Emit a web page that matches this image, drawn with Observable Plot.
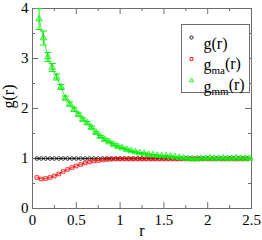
<!DOCTYPE html>
<html>
<head>
<meta charset="utf-8">
<script src="https://cdn.jsdelivr.net/npm/d3@7"></script>
<script src="https://cdn.jsdelivr.net/npm/@observablehq/plot@0.6"></script>
<style>
  html, body { margin: 0; padding: 0; background: #fff; }
  svg { display: block; }
</style>
</head>
<body>
<div id="chart"></div>
<script>
// ---- data ----
const rGrid = [0.05,0.10,0.15,0.20,0.25,0.30,0.35,0.40,0.45,0.50,0.55,0.60,0.65,0.70,0.75,0.80,0.85,0.90,0.95,1.00,
  1.05,1.10,1.15,1.20,1.25,1.30,1.35,1.40,1.45,1.50,1.55,1.60,1.65,1.70,1.75,1.80,1.85,1.90,1.95,2.00,
  2.05,2.10,2.15,2.20,2.25,2.30,2.35,2.40,2.45];
const gValues = rGrid.map(() => 1.0);
const gmaValues = [0.62,0.59,0.60,0.62,0.65,0.69,0.74,0.78,0.82,0.85,0.88,0.91,0.93,0.95,0.96,0.97,0.98,0.985,0.99,0.99,
  0.99,0.99,0.99,0.99,0.99,0.99,0.99,0.99,0.99,0.99,0.99,0.99,0.99,0.99,0.99,0.99,0.99,0.99,0.99,0.99,
  0.99,0.99,0.99,0.99,0.99,0.99,0.99,0.99,0.99];
const rMM = [0.075,0.125,0.175,0.225,0.275,0.325,0.375,0.425,0.475,0.525,0.575,0.625,0.675,0.725,0.775,0.825,0.875,0.925,0.975,
  1.025,1.075,1.125,1.175,1.225,1.275,1.325,1.375,1.425,1.475,1.525,1.575,1.625,1.675,1.725,1.775,1.825,1.875,1.925,1.975,
  2.025,2.075,2.125,2.175,2.225,2.275,2.325,2.375,2.425,2.475];
const gmmValues = [3.79,3.41,3.03,2.82,2.63,2.43,2.21,2.09,1.98,1.88,1.78,1.71,1.62,1.52,1.44,1.38,1.33,1.28,1.24,
  1.21,1.18,1.15,1.13,1.11,1.10,1.08,1.07,1.06,1.05,1.05,1.04,1.03,1.02,1.01,1.00,0.99,0.99,1.00,1.00,
  1.01,1.00,1.00,1.01,1.00,1.00,1.01,1.00,1.00,1.00];
const gmmErrors = [0.21,0.14,0.09,0.08,0.06,0.05,0.04,0.04,0.035,0.03,0.03,0.025,0.025,0.02,0.02,0.02,0.015,0.015,0.015,
  0.012,0.012,0.012,0.01,0.01,0.01,0.01,0.01,0.01,0.01,0.01,0.01,0.01,0.01,0.01,0.01,0.01,0.01,0.01,0.01,
  0.01,0.01,0.01,0.01,0.01,0.01,0.01,0.01,0.01,0.01];
const xMajor = [0, 0.5, 1, 1.5, 2, 2.5];
const xMinor = [0.25, 0.75, 1.25, 1.75, 2.25];
const yMajor = [0, 1, 2, 3, 4];
const yMinor = [0.5, 1.5, 2.5, 3.5];
const seriesNames = ["g(r)", "g_ma(r)", "g_mm(r)"];
const seriesColors = ["#000000", "#ff0000", "#11ee11"];
const seriesSymbols = ["circle", "square", "triangle"];

// ---- tables ----
const gData = rGrid.map((r, i) => ({r, y: gValues[i]}));
const gmaData = rGrid.map((r, i) => ({r, y: gmaValues[i]}));
const gmmData = rMM.map((r, i) => ({r, y: gmmValues[i], e: gmmErrors[i]}));

const cap = { draw(ctx) { ctx.moveTo(-3.5, 0); ctx.lineTo(3.5, 0); } };
const frameColor = "#6e6e6e";
const fw = 219, fh = 200;

const legendMarks = seriesNames.flatMap((name, i) => [
  Plot.dot([name], {frameAnchor: "top-right", dx: -60, dy: 29 + i * 21.5, symbol: seriesSymbols[i], stroke: seriesColors[i], fill: "none", r: 1.6, strokeWidth: 0.9}),
  Plot.text([name], {frameAnchor: "top-right", dx: -48, dy: 29 + i * 21.5, textAnchor: "start", fontSize: 16, fill: "#000"})
]);

const chart = Plot.plot({
  width: 262, height: 240,
  marginTop: 8, marginRight: 11, marginBottom: 32, marginLeft: 32,
  style: {fontFamily: "'Liberation Serif', 'Times New Roman', serif", fontSize: "15px", color: "#000", background: "#fff"},
  x: {domain: [0, 2.5]},
  y: {domain: [0, 4]},
  marks: [
    Plot.axisX(xMajor, {tickSize: 0, tickPadding: 6, tickFormat: d => String(d), label: null, fontSize: 15}),
    Plot.axisY(yMajor, {tickSize: 0, tickPadding: 4, tickFormat: d => String(d), label: null, fontSize: 15}),
    // inward tick marks
    Plot.ruleX(xMajor, {insetTop: fh - 6, stroke: frameColor}),
    Plot.ruleX(xMajor, {insetBottom: fh - 6, stroke: frameColor}),
    Plot.ruleX(xMinor, {insetTop: fh - 3, stroke: frameColor}),
    Plot.ruleX(xMinor, {insetBottom: fh - 3, stroke: frameColor}),
    Plot.ruleY(yMajor, {insetRight: fw - 6, stroke: frameColor}),
    Plot.ruleY(yMajor, {insetLeft: fw - 6, stroke: frameColor}),
    Plot.ruleY(yMinor, {insetRight: fw - 3, stroke: frameColor}),
    Plot.ruleY(yMinor, {insetLeft: fw - 3, stroke: frameColor}),
    Plot.frame({stroke: frameColor}),
    // g(r)
    Plot.line(gData, {x: "r", y: "y", stroke: seriesColors[0], strokeWidth: 0.8}),
    Plot.dot(gData, {x: "r", y: "y", symbol: "circle", r: 1.8, stroke: seriesColors[0], strokeWidth: 0.8, fill: "none"}),
    // g_ma(r)
    Plot.line(gmaData, {x: "r", y: "y", stroke: seriesColors[1], strokeWidth: 0.8}),
    Plot.dot(gmaData, {x: "r", y: "y", symbol: "square", r: 2, stroke: seriesColors[1], strokeWidth: 0.8, fill: "none"}),
    // g_mm(r) with error bars
    Plot.ruleX(gmmData, {x: "r", y1: d => d.y - d.e, y2: d => d.y + d.e, stroke: seriesColors[2], strokeWidth: 1}),
    Plot.dot(gmmData, {x: "r", y: d => d.y + d.e, symbol: cap, r: 2, stroke: seriesColors[2], strokeWidth: 1}),
    Plot.dot(gmmData, {x: "r", y: d => d.y - d.e, symbol: cap, r: 2, stroke: seriesColors[2], strokeWidth: 1}),
    Plot.line(gmmData, {x: "r", y: "y", stroke: seriesColors[2], strokeWidth: 0.8}),
    Plot.dot(gmmData, {x: "r", y: "y", symbol: "triangle", r: 2.4, stroke: seriesColors[2], fill: seriesColors[2], fillOpacity: 0.35, strokeWidth: 0.8}),
    // axis titles
    Plot.text(["r"], {frameAnchor: "bottom", dy: 27, fontSize: 16}),
    Plot.text(["g(r)"], {frameAnchor: "left", dx: -24, rotate: -90, fontSize: 16}),
    // legend
    Plot.frame({stroke: frameColor, fill: "#fff", insetLeft: 149, insetRight: 2, insetTop: 16, insetBottom: 116}),
    ...legendMarks
  ]
});
document.getElementById("chart").appendChild(chart);

// subscripts in legend labels
d3.select(chart).selectAll("text").each(function() {
  const t = this.textContent;
  const m = /^g_(\w+)\((r)\)$/.exec(t);
  if (!m) return;
  const sel = d3.select(this);
  sel.text(null);
  sel.append("tspan").text("g");
  sel.append("tspan").attr("dy", "0.3em").attr("font-size", "11px").text(m[1]);
  sel.append("tspan").attr("dy", "-0.3em").text("(r)");
});
</script>
</body>
</html>
